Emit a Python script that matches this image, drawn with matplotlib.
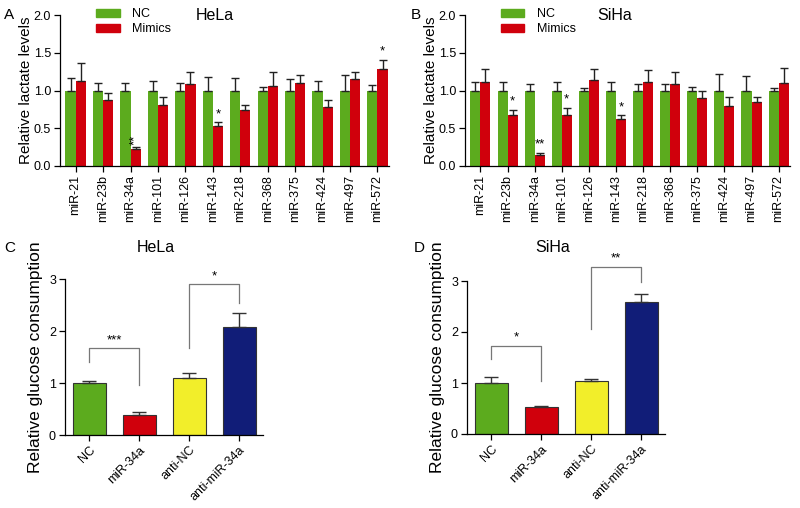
import numpy as np
import matplotlib
matplotlib.use("Agg")
import matplotlib.pyplot as plt
from matplotlib.patches import Patch

plt.rcParams['font.family'] = ['Liberation Sans', 'DejaVu Sans']

# lactate data
mirs = ["miR-21", "miR-23b", "miR-34a", "miR-101", "miR-126", "miR-143",
        "miR-218", "miR-368", "miR-375", "miR-424", "miR-497", "miR-572"]

hela_nc = [1.0] * 12
hela_nc_err = [0.17, 0.10, 0.10, 0.12, 0.10, 0.18, 0.17, 0.05, 0.15, 0.12, 0.20, 0.07]
hela_mim = [1.13, 0.87, 0.22, 0.81, 1.08, 0.53, 0.74, 1.06, 1.10, 0.78, 1.15, 1.28]
hela_mim_err = [0.23, 0.10, 0.03, 0.11, 0.17, 0.05, 0.07, 0.19, 0.10, 0.10, 0.09, 0.13]
hela_sig = {2: "**", 5: "*", 11: "*"}

siha_nc = [1.0] * 12
siha_nc_err = [0.11, 0.11, 0.08, 0.11, 0.03, 0.11, 0.09, 0.08, 0.05, 0.22, 0.19, 0.03]
siha_mim = [1.11, 0.67, 0.15, 0.68, 1.14, 0.62, 1.11, 1.09, 0.90, 0.80, 0.85, 1.10]
siha_mim_err = [0.17, 0.07, 0.02, 0.09, 0.14, 0.05, 0.16, 0.15, 0.10, 0.11, 0.06, 0.20]
siha_sig = {1: "*", 2: "**", 3: "*", 5: "*"}

# glucose data
groups = ["NC", "miR-34a", "anti-NC", "anti-miR-34a"]
hela_glu = [1.0, 0.39, 1.09, 2.07]
hela_glu_err = [0.04, 0.05, 0.10, 0.27]
siha_glu = [1.0, 0.52, 1.03, 2.58]
siha_glu_err = [0.12, 0.03, 0.05, 0.17]
# brackets: (left, right, top, left leg bottom, right leg bottom, label)
hela_br = [(0, 1, 1.67, 1.41, 0.96, "***"), (2, 3, 2.90, 1.68, 2.53, "*")]
siha_br = [(0, 1, 1.73, 1.47, 1.03, "*"), (2, 3, 3.28, 2.05, 2.98, "**")]

green = "#5cab1e"
red = "#d0000c"
yellow = "#f2ee2a"
navy = "#111d78"

W, H = 800, 508
fig = plt.figure(figsize=(8, 5.08), dpi=100)


def px_axes(x0, y0, x1, y1):
    return fig.add_axes([x0 / W, 1 - y1 / H, (x1 - x0) / W, (y1 - y0) / H])


def style(ax):
    for s in ["top", "right"]:
        ax.spines[s].set_visible(False)
    ax.spines["left"].set_linewidth(0.9)
    ax.spines["bottom"].set_linewidth(0.9)
    ax.tick_params(width=0.9, length=4, pad=2.5, labelsize=9)


def lactate(ax, nc, nce, mim, mime, sig, title, tx, star_rot):
    x = np.arange(len(mirs))
    w = 0.37
    ax.bar(x - w / 2, nc, w, color=green, yerr=[np.zeros(12), nce],
           error_kw=dict(ecolor="#222222", elinewidth=1, capsize=3, capthick=1))
    ax.bar(x + w / 2, mim, w, color=red, yerr=[np.zeros(12), mime],
           error_kw=dict(ecolor="#222222", elinewidth=1, capsize=3, capthick=1))
    for i, s in sig.items():
        y = mim[i] + mime[i] + 0.03
        ax.text(x[i] + w / 2, y, s, ha="center", va="bottom", fontsize=9.5,
                rotation=star_rot if len(s) > 1 else 0)
    ax.set_xlim(-0.57, 11.42)
    ax.set_ylim(0, 2.0)
    ax.set_yticks([0, 0.5, 1.0, 1.5, 2.0])
    ax.set_yticklabels(["0.0", "0.5", "1.0", "1.5", "2.0"])
    ax.set_xticks(x)
    ax.set_xticklabels(mirs, rotation=90)
    ax.set_ylabel("Relative lactate levels", fontsize=11)
    # label right edge ~27 px left of the spine
    ax.yaxis.set_label_coords(-27 / (ax.get_position().width * W), 0.5)
    ax.text(tx, 1.0, title, transform=ax.transAxes, fontsize=11.5,
            ha="center", va="center")
    style(ax)
    ax.legend(handles=[Patch(color=green, label="NC"), Patch(color=red, label="Mimics")],
              loc="upper left", bbox_to_anchor=(0.075, 1.12), frameon=False,
              fontsize=9, handlelength=1.9, handleheight=0.6, labelspacing=0.25,
              handletextpad=1.0)


def glucose(ax, vals, err, br):
    x = np.arange(4)
    ax.bar(x, vals, 0.66, color=[green, red, yellow, navy], edgecolor="#333333",
           linewidth=0.8, yerr=[np.zeros(4), err],
           error_kw=dict(ecolor="#333333", elinewidth=1, capsize=5, capthick=1))
    for a, b, top, la, lb, s in br:
        ax.plot([a, a, b, b], [la, top, top, lb], color="#777777", lw=0.9, clip_on=False)
        ax.text((a + b) / 2, top + 0.04, s, ha="center", va="bottom", fontsize=9.5)
    ax.set_xlim(-0.49, 3.48)
    ax.set_ylim(0, 3)
    ax.set_yticks([0, 1, 2, 3])
    ax.set_xticks(x)
    ax.set_xticklabels(groups, rotation=45, ha="right", rotation_mode="anchor")
    ax.set_ylabel("Relative glucose consumption", fontsize=12.5)
    ax.yaxis.set_label_coords(-0.11, 0.5)
    style(ax)


axA = px_axes(60, 15, 389, 166)
lactate(axA, hela_nc, hela_nc_err, hela_mim, hela_mim_err, hela_sig, "HeLa", 0.47, 90)
axB = px_axes(465, 15, 790, 166)
lactate(axB, siha_nc, siha_nc_err, siha_mim, siha_mim_err, siha_sig, "SiHa", 0.46, 0)

axC = px_axes(65, 279, 263, 435)
glucose(axC, hela_glu, hela_glu_err, hela_br)
axD = px_axes(467, 281, 665, 434)
glucose(axD, siha_glu, siha_glu_err, siha_br)

fig.text(156 / W, 1 - 248 / H, "HeLa", fontsize=11.5, ha="center", va="center")
fig.text(553 / W, 1 - 248 / H, "SiHa", fontsize=11.5, ha="center", va="center")

for lab, xx, yy in [("A", 4, 15), ("B", 411, 15), ("C", 4, 248), ("D", 414, 248)]:
    fig.text(xx / W, 1 - yy / H, lab, fontsize=11, va="center")

fig.savefig("out.png", dpi=100)
